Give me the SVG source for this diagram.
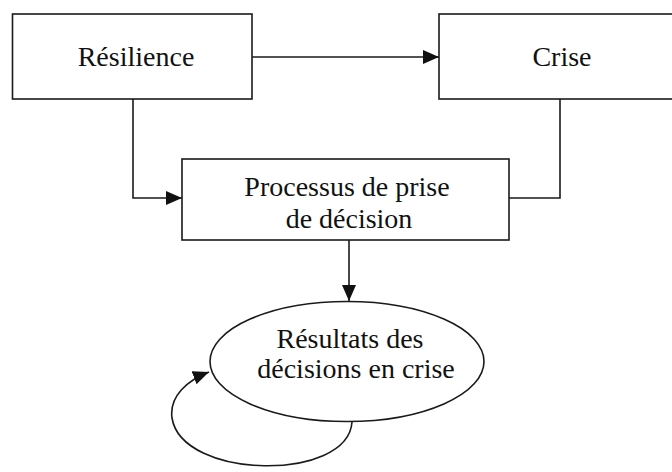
<svg xmlns="http://www.w3.org/2000/svg" width="672" height="472" viewBox="0 0 672 472">
<defs>
<style>
.box{fill:#fff;stroke:#1a1a1a;stroke-width:1.6}
.t{font-family:"Liberation Serif","Times New Roman",serif;font-size:28px;fill:#111;text-anchor:middle}
.c{fill:none;stroke:#1a1a1a;stroke-width:1.6}
</style>
<marker id="ah" viewBox="0 0 16 14" refX="16" refY="7" markerWidth="16" markerHeight="14" markerUnits="userSpaceOnUse" orient="auto">
<path d="M0,0 L16,7 L0,14 Z" fill="#111"/>
</marker>
</defs>
<rect width="672" height="472" fill="#fff"/>
<g id="connectors">
<path class="c" d="M252,57 H439" marker-end="url(#ah)"/>
<path class="c" d="M133,99 V198 H182" marker-end="url(#ah)"/>
<path class="c" d="M560,99 V198 H509"/>
<path class="c" d="M349,240 V301" marker-end="url(#ah)"/>
<path class="c" d="M352,422 C348,482 182,480 172,418 C169,396 188,380 209,372" marker-end="url(#ah)"/>
</g>
<g id="resilience">
<rect class="box" x="12.5" y="14" width="239.5" height="85"/>
<text class="t" x="136" y="66">Résilience</text>
</g>
<g id="crise">
<rect class="box" x="439" y="14" width="250" height="85"/>
<text class="t" x="562" y="66">Crise</text>
</g>
<g id="processus">
<rect class="box" x="182" y="159" width="327" height="81"/>
<text class="t" x="347" y="196">Processus de prise</text>
<text class="t" x="349" y="228">de décision</text>
</g>
<g id="resultats">
<ellipse class="box" cx="347" cy="361.5" rx="137" ry="60"/>
<text class="t" x="350" y="348">Résultats des</text>
<text class="t" x="356" y="378">décisions en crise</text>
</g>
</svg>
